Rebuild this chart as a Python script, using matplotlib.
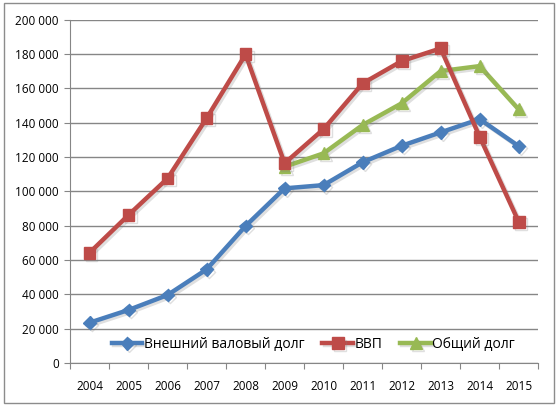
import matplotlib
matplotlib.use("Agg")
import matplotlib.pyplot as plt
import matplotlib.patheffects as pe
from matplotlib.patches import Rectangle
from matplotlib.ticker import FuncFormatter, FixedLocator
import numpy as np

# data
years = ["2004", "2005", "2006", "2007", "2008", "2009",
         "2010", "2011", "2012", "2013", "2014", "2015"]
external_debt = [23500, 30900, 39600, 54500, 79800, 101700,
                 103600, 116900, 126500, 134300, 142000, 126300]
gdp = [64200, 86200, 107500, 142500, 179700, 116300,
       136200, 162800, 175800, 183200, 131800, 82300]
total_debt_years = years[5:]
total_debt = [114300, 122100, 138600, 151200, 170000, 172900, 147700]

plt.rcParams["font.family"] = ["Open Sans", "DejaVu Sans"]

fig = plt.figure(figsize=[5.6, 4.07], dpi=100)
ax = fig.add_axes([0.125, 0.108, 0.836, 0.844])

# chart frame
fig.patches.append(Rectangle((4 / 560, 4 / 407), 550 / 560, 400 / 407,
                             transform=fig.transFigure, fill=False,
                             edgecolor="#8c8c8c", linewidth=1.0))

x_all = np.arange(len(years)) + 0.5
x_total = np.arange(5, len(years)) + 0.5

shadow = [pe.SimpleLineShadow(offset=(1.5, -1.5), alpha=0.25, shadow_color="gray"), pe.Normal()]

ax.plot(x_all, external_debt, color="#4a7ebb", linewidth=3.2, marker="D",
        markersize=6.5, label="Внешний валовый долг", path_effects=shadow, zorder=3)
ax.plot(x_all, gdp, color="#be4b48", linewidth=3.2, marker="s",
        markersize=8.5, label="ВВП", path_effects=shadow, zorder=4)
ax.plot(x_total, total_debt, color="#98b954", linewidth=3.2, marker="^",
        markersize=8.5, label="Общий долг", path_effects=shadow, zorder=3)

ax.set_xlim(0, len(years))
ax.set_ylim(0, 200000)

ax.yaxis.set_major_locator(FixedLocator(np.arange(0, 200001, 20000)))
ax.yaxis.set_major_formatter(FuncFormatter(lambda v, p: f"{int(v):,}".replace(",", " ")))
ax.grid(axis="y", color="#868686", linewidth=1.0)
ax.set_axisbelow(True)

# excel-like category ticks between labels
ax.set_xticks(np.arange(len(years) + 1))
ax.set_xticklabels([])
ax.set_xticks(x_all, minor=True)
ax.set_xticklabels(years, minor=True, fontsize=8.5)
ax.tick_params(axis="x", which="major", length=4, color="#868686", direction="out")
ax.tick_params(axis="x", which="minor", length=0, pad=12)
ax.tick_params(axis="y", length=4, color="#868686", labelsize=8.5, pad=4)

for side in ["top", "right"]:
    ax.spines[side].set_visible(False)
ax.spines["left"].set_color("#868686")
ax.spines["bottom"].set_color("#868686")

ax.legend(loc="lower center", bbox_to_anchor=(0.52, -0.005), ncol=3, frameon=False,
          fontsize=10, handlelength=2.2, columnspacing=1.3, handletextpad=0.1)

fig.savefig("out.png", dpi=100)
